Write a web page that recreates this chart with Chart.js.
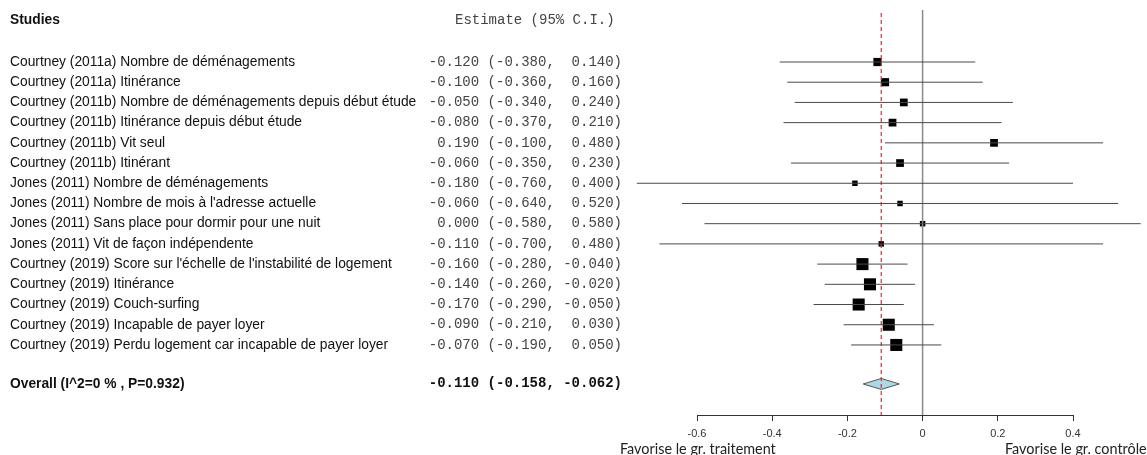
<!DOCTYPE html>
<html>
<head>
<meta charset="utf-8">
<script src="https://cdn.jsdelivr.net/npm/chart.js@4"></script>
<style>
  body { margin: 0; background: #fff; }
  canvas { display: block; }
</style>
</head>
<body>
<canvas id="forest" width="1147" height="455"></canvas>
<script>
// data
const studies = [
  "Courtney (2011a) Nombre de déménagements",
  "Courtney (2011a) Itinérance",
  "Courtney (2011b) Nombre de déménagements depuis début étude",
  "Courtney (2011b) Itinérance depuis début étude",
  "Courtney (2011b) Vit seul",
  "Courtney (2011b) Itinérant",
  "Jones (2011) Nombre de déménagements",
  "Jones (2011) Nombre de mois à l'adresse actuelle",
  "Jones (2011) Sans place pour dormir pour une nuit",
  "Jones (2011) Vit de façon indépendente",
  "Courtney (2019) Score sur l'échelle de l'instabilité de logement",
  "Courtney (2019) Itinérance",
  "Courtney (2019) Couch-surfing",
  "Courtney (2019) Incapable de payer loyer",
  "Courtney (2019) Perdu logement car incapable de payer loyer"
];
const estimates = [-0.120, -0.100, -0.050, -0.080, 0.190, -0.060, -0.180, -0.060, 0.000, -0.110, -0.160, -0.140, -0.170, -0.090, -0.070];
const lowerCI   = [-0.380, -0.360, -0.340, -0.370, -0.100, -0.350, -0.760, -0.640, -0.580, -0.700, -0.280, -0.260, -0.290, -0.210, -0.190];
const upperCI   = [ 0.140,  0.160,  0.240,  0.210,  0.480,  0.230,  0.400,  0.520,  0.580,  0.480, -0.040, -0.020, -0.050,  0.030,  0.050];

const overallLabel = "Overall (I^2=0 % , P=0.932)";
const overallEst = -0.110;
const overallLower = -0.158;
const overallUpper = -0.062;

const xTicks = [-0.6, -0.4, -0.2, 0, 0.2, 0.4];
const leftLabel = "Favorise le gr. traitement";
const rightLabel = "Favorise le gr. contrôle";

// row positions on the y scale
const rows = studies.map((s, i) => i + 1);
const overallRow = 16.93;
const headerRow = -1.08;
const yTop = -1.573, yBottom = 18.466;

function fmt(v) {
  return v.toFixed(3).padStart(6, " ");
}

const ciSets = studies.map((s, i) => ({
  type: "line",
  data: [{ x: lowerCI[i], y: rows[i] }, { x: upperCI[i], y: rows[i] }],
  borderColor: "#4a4a4a",
  borderWidth: 1,
  pointRadius: 0,
  clip: false
}));

const diamondH = 0.27;
const sans = "'Liberation Sans', Arial, sans-serif";
const mono = "'Liberation Mono', monospace";

const textPlugin = {
  id: "forestText",
  afterDraw(chart) {
    const ctx = chart.ctx;
    const y = chart.scales.y;
    ctx.save();
    ctx.textBaseline = "middle";

    ctx.fillStyle = "#111";
    ctx.font = "bold 13.8px " + sans;
    ctx.textAlign = "left";
    ctx.fillText("Studies", 10, y.getPixelForValue(headerRow));
    ctx.font = "14px " + mono;
    ctx.fillStyle = "#444";
    ctx.fillText("Estimate (95% C.I.)", 455, y.getPixelForValue(headerRow));

    studies.forEach((s, i) => {
      const py = y.getPixelForValue(rows[i]);
      ctx.textAlign = "left";
      ctx.fillStyle = "#111";
      ctx.font = "13.8px " + sans;
      ctx.fillText(s, 10, py);
      ctx.textAlign = "right";
      ctx.fillStyle = "#444";
      ctx.font = "14px " + mono;
      ctx.fillText(fmt(estimates[i]) + " (" + fmt(lowerCI[i]) + ", " + fmt(upperCI[i]) + ")", 622, py);
    });

    const oy = y.getPixelForValue(overallRow);
    ctx.textAlign = "left";
    ctx.fillStyle = "#111";
    ctx.font = "bold 13.8px " + sans;
    ctx.fillText(overallLabel, 10, oy);
    ctx.textAlign = "right";
    ctx.font = "bold 14px " + mono;
    ctx.fillText(fmt(overallEst) + " (" + fmt(overallLower) + ", " + fmt(overallUpper) + ")", 622, oy);

    ctx.textBaseline = "alphabetic";
    ctx.textAlign = "left";
    ctx.fillStyle = "#222";
    ctx.font = "14.4px Lato, sans-serif";
    ctx.fillText(leftLabel, 620, 454);
    ctx.fillText(rightLabel, 1005, 454);
    ctx.restore();
  }
};

new Chart(document.getElementById("forest"), {
  type: "scatter",
  data: {
    datasets: [
      ...ciSets,
      {
        type: "line",
        data: [{ x: 0, y: yTop }, { x: 0, y: yBottom }],
        borderColor: "#8a8a8a",
        borderWidth: 1.5,
        pointRadius: 0,
        clip: false
      },
      {
        type: "line",
        data: [{ x: overallEst, y: yTop + 0.15 }, { x: overallEst, y: yBottom }],
        borderColor: "#ff2020",
        borderWidth: 1.2,
        borderDash: [4, 3],
        pointRadius: 0,
        clip: false
      },
      {
        type: "scatter",
        data: estimates.map((e, i) => ({ x: e, y: rows[i] })),
        pointStyle: "rect",
        pointRadius: estimates.map((e, i) => (5.9 / Math.sqrt(upperCI[i] - lowerCI[i])) / Math.SQRT2),
        backgroundColor: "#000",
        borderWidth: 0,
        clip: false
      },
      {
        type: "line",
        data: [
          { x: overallLower, y: overallRow },
          { x: overallEst, y: overallRow - diamondH },
          { x: overallUpper, y: overallRow },
          { x: overallEst, y: overallRow + diamondH },
          { x: overallLower, y: overallRow }
        ],
        borderColor: "#555",
        borderWidth: 1,
        backgroundColor: "#add8e6",
        fill: "shape",
        pointRadius: 0,
        tension: 0,
        clip: false
      }
    ]
  },
  options: {
    responsive: false,
    animation: false,
    events: [],
    layout: { padding: { left: 697, right: 74, top: 10, bottom: 0 } },
    plugins: { legend: { display: false }, tooltip: { enabled: false } },
    scales: {
      x: {
        type: "linear",
        min: -0.6,
        max: 0.4,
        afterBuildTicks: s => { s.ticks = xTicks.map(v => ({ value: v })); },
        afterFit: s => { s.height = 40; },
        grid: { drawOnChartArea: false, drawTicks: true, tickLength: 6, color: "#333" },
        border: { display: true, color: "#333", width: 1 },
        ticks: {
          padding: 6,
          color: "#333",
          font: { size: 11, family: sans },
          callback: v => Math.abs(v) < 1e-9 ? "0" : v.toFixed(1)
        }
      },
      y: {
        type: "linear",
        display: false,
        reverse: true,
        min: yTop,
        max: yBottom
      }
    }
  },
  plugins: [textPlugin]
});
</script>
</body>
</html>
